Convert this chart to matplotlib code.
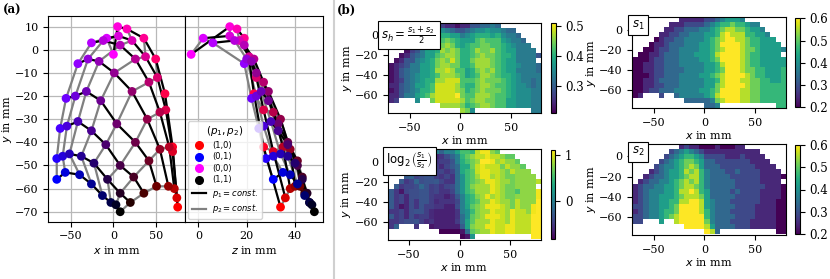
import numpy as np
import matplotlib
matplotlib.use('Agg')
import matplotlib.pyplot as plt
from matplotlib.lines import Line2D

plt.rcParams['font.family'] = ['DejaVu Serif']
plt.rcParams['font.size'] = 8
plt.rcParams['mathtext.fontset'] = 'dejavusans'

# ---------------- panel (a): mesh nodes (rows: p2 index, cols: p1 index) ----------------
mesh_x = [
    [0, 5, 16, 36, 50, 61, 70, 76],
    [-8, 6, 22, 38, 52, 62, 70, 75],
    [-26, -12, 8, 26, 42, 55, 66, 72],
    [-42, -30, -17, 1, 22, 40, 55, 65],
    [-56, -45, -32, -15, 4, 26, 42, 51],
    [-63, -55, -42, -26, -9, 8, 24, 36],
    [-67, -60, -52, -38, -23, -7, 8, 20],
    [-67, -57, -40, -26, -13, -3, 3, 8],
]
mesh_y = [
    [-2, 10, 9, 5, -4, -19, -42, -68],
    [5, 6, 4, -3, -12, -26, -44, -64],
    [3, 4, 2, -4, -14, -27, -42, -60],
    [-6, -4, -5, -10, -18, -30, -43, -59],
    [-21, -20, -18, -22, -32, -40, -48, -59],
    [-34, -33, -31, -35, -41, -50, -55, -62],
    [-47, -46, -45, -46, -49, -56, -62, -66],
    [-56, -53, -54, -58, -63, -66, -67, -70],
]
mesh_z = [
    [-3, 13, 16, 19, 21, 23, 27, 34],
    [2, 13, 17, 21, 24, 27, 31, 36],
    [6, 15, 19, 23, 27, 31, 35, 38],
    [19, 20, 22, 24, 29, 34, 38, 40],
    [22, 24, 26, 29, 33, 37, 41, 42],
    [25, 27, 30, 33, 37, 41, 43, 44],
    [28, 31, 34, 37, 40, 43, 45, 46],
    [31, 35, 38, 41, 44, 46, 47, 48],
]
corner_labels = ['(1,0)', '(0,1)', '(0,0)', '(1,1)']
corner_colors = ['red', 'blue', 'magenta', 'black']

# ---------------- panel (b): heat-map levels (0..9 -> 0.2..0.6), '.' = no data ----------------
s1_rows = [
    "........." + "1111122345554" + "........",
    "......." + "111222234566766544" + ".....",
    "......" + "11223334456788776554" + "....",
    "....." + "1122334445568988866554" + "...",
    "...." + "012233444456789988766555" + "..",
    "..." + "01123334445567999987665555" + ".",
    ".." + "0012233444455678999877655554",
    "." + "0011233344455568999987665555" + ".",
    "0001223334" + "4445567999" + "9876655555",
    "0011223334" + "4444556899" + "9876655555",
    "0011223333" + "4444556799" + "9877665556",
    "0001223334" + "4445567899" + "9987665556",
    "0011233334" + "4444556899" + "9887766556",
    "0011223334" + "4444557899" + "9987766666",
    "0012233344" + "4445567999" + "9887766666",
    "01...2..34" + "4444568999" + "9887766666",
    ".........." + "3333347899" + "9887766666",
    ".............." + "334" + "..........." + "66",
]
s2_rows = [
    "........." + "1211000100011" + "........",
    "......." + "234543211111111111" + ".....",
    "......" + "23456654222211121111" + "....",
    "....." + "2345677653322222221111" + "...",
    "...." + "234456787533322222221111" + "..",
    "..." + "12345568786433322322221111" + ".",
    ".." + "1233455678864333322222211110",
    "." + "1233445678786433333222221111" + ".",
    "1233445567" + "8876433333" + "2222221110",
    "1234445568" + "8986533332" + "3222211110",
    "1234455567" + "8887533333" + "2222211110",
    "1234455668" + "8998543332" + "2222211100",
    "2234455679" + "9998543333" + "2222111100",
    "1234456679" + "9998643332" + "2222111100",
    "2234456789" + "9999643333" + "2222111100",
    "22...5..89" + "9999743332" + "2221111100",
    ".........." + "9999853333" + "2221111100",
    ".............." + "983" + "..........." + "00",
]
level_min, level_max = 0.2, 0.6


def decode(rows):
    arr = np.full((len(rows), len(rows[0])), np.nan)
    for r, s in enumerate(rows):
        for c, ch in enumerate(s):
            if ch != '.':
                arr[r, c] = int(ch)
    return level_min + arr * (level_max - level_min) / 9.0


s1 = decode(s1_rows)
s2 = decode(s2_rows)
sh = (s1 + s2) / 2.0
lg = np.log2(s1 / s2)

x_edges = np.arange(-70, 81, 5)
y_edges = 12.5 - 5 * np.arange(19)

# ---------------- figure ----------------
W, H = 830, 279
fig = plt.figure(figsize=(W / 100, H / 100), dpi=100)


def rect(l, t, r, b):
    return [l / W, 1 - b / H, (r - l) / W, (b - t) / H]


ax1 = fig.add_axes(rect(48.3, 16, 185.3, 221.7))
ax2 = fig.add_axes(rect(185.3, 16, 323.3, 221.7), sharey=ax1)

MX, MY, MZ = np.array(mesh_x), np.array(mesh_y), np.array(mesh_z)
n2, n1 = MX.shape
p1 = np.linspace(0, 1, n1)
p2 = np.linspace(0, 1, n2)
P1, P2 = np.meshgrid(p1, p2)
cols = np.stack([1 - P2, np.zeros_like(P1), 1 - P1], axis=-1).reshape(-1, 3)

for ax, H_ in ((ax1, MX), (ax2, MZ)):
    for j in range(n1):
        ax.plot(H_[:, j], MY[:, j], color='#808080', lw=1.6, zorder=2)
    for i in range(n2):
        ax.plot(H_[i, :], MY[i, :], color='black', lw=1.6, zorder=3)
    ax.scatter(H_.ravel(), MY.ravel(), s=40, c=cols, zorder=4, linewidths=0)
    ax.grid(True, color='#b8b8b8', lw=0.9, zorder=0)
    ax.set_axisbelow(True)

ax1.set_xlim(-77, 85)
ax1.set_ylim(-74.3, 14.6)
ax1.set_xticks([-50, 0, 50])
ax1.set_yticks(np.arange(-70, 11, 10))
ax1.set_xlabel('$x$ in mm', labelpad=2)
ax1.set_ylabel('$y$ in mm', labelpad=1)
ax2.set_xlim(-5.4, 51.7)
ax2.set_xticks([0, 20, 40])
ax2.tick_params(left=False, labelleft=False)
ax2.set_xlabel('$z$ in mm', labelpad=2)

handles = [Line2D([], [], ls='none', marker='o', ms=5.5, color=c) for c in corner_colors]
handles += [Line2D([], [], color='black', lw=1.6), Line2D([], [], color='gray', lw=1.6)]
labels = corner_labels + ['$p_1 = const.$', '$p_2 = const.$']
leg = ax2.legend(handles, labels, title='$(p_1, p_2)$', loc='lower left',
                 prop={'family': 'DejaVu Sans', 'size': 6}, title_fontsize=7.5,
                 handlelength=1.7, borderaxespad=0.35, labelspacing=0.3)

# ---------------- panel (b) ----------------
panels = [
    (sh, rect(388.3, 22.7, 541, 113.3), rect(551, 23.3, 555.5, 112.7), (0.21, 0.51), [0.3, 0.4, 0.5],
     r'$s_h = \frac{s_1 + s_2}{2}$', -0.045),
    (lg, rect(387.7, 149.3, 540.7, 240), rect(550.7, 150, 555.3, 239.3), (-0.85, 1.12), [0, 1],
     r'$\log_2\left(\frac{s_1}{s_2}\right)$', -0.01),
    (s1, rect(632.3, 17.3, 785.7, 108.3), rect(795, 18.3, 800, 107.3), (0.2, 0.6), [0.2, 0.3, 0.4, 0.5, 0.6],
     r'$s_1$', -0.005),
    (s2, rect(632.3, 144, 785.7, 235), rect(795, 145, 800, 234), (0.2, 0.6), [0.2, 0.3, 0.4, 0.5, 0.6],
     r'$s_2$', -0.005),
]
for data, r_ax, r_cb, (vmin, vmax), cticks, title, tx in panels:
    ax = fig.add_axes(r_ax)
    m = ax.pcolormesh(x_edges, y_edges, np.ma.masked_invalid(data), cmap='viridis',
                      vmin=vmin, vmax=vmax, shading='flat')
    ax.set_xlim(-71, 80)
    ax.set_ylim(-78, 12.3)
    ax.set_xticks([-50, 0, 50])
    ax.set_yticks([0, -20, -40, -60])
    ax.set_xlabel('$x$ in mm', labelpad=1)
    ax.set_ylabel('$y$ in mm', labelpad=1)
    ax.text(tx, 0.985, title, transform=ax.transAxes, ha='left', va='top', fontsize=8.5,
            bbox=dict(boxstyle='square,pad=0.3', fc='white', ec='black', lw=0.8), zorder=5)
    cax = fig.add_axes(r_cb)
    cb = fig.colorbar(m, cax=cax)
    cb.set_ticks(cticks)
    cb.ax.tick_params(labelsize=8.5)
    cb.outline.set_linewidth(0.8)

fig.add_artist(Line2D([333.5 / W, 333.5 / W], [0, 1], color='#d0d0d0', lw=1.5))
fig.text(3 / W, 1 - 10 / H, '(a)', fontweight='bold', fontsize=8.5, va='center')
fig.text(337 / W, 1 - 10 / H, '(b)', fontweight='bold', fontsize=8.5, va='center')

fig.savefig('out.png', dpi=100)
